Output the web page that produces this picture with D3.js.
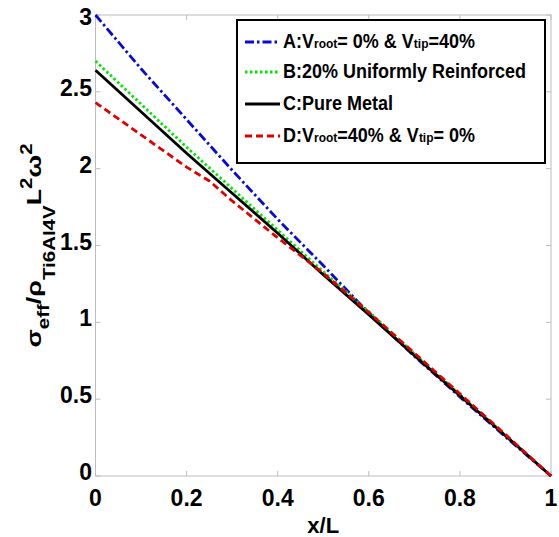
<!DOCTYPE html>
<html>
<head>
<meta charset="utf-8">
<script src="https://cdn.jsdelivr.net/npm/d3@7"></script>
<style>
  body { margin: 0; background: #fff; }
  svg { display: block; font-family: "Liberation Sans", Arial, sans-serif; font-weight: bold; }
</style>
</head>
<body>
<svg id="chart" width="559" height="537"></svg>
<script>
(function(d3) {
    'use strict';

    // data
    var xs = [0, 0.1, 0.2, 0.3, 0.4, 0.5, 0.6, 0.7, 0.8, 0.9, 1];
    var seriesA = [3.00, 2.65, 2.32, 1.99, 1.67, 1.37, 1.06, 0.78, 0.515, 0.255, 0];
    var seriesB = [2.70, 2.42, 2.14, 1.87, 1.60, 1.33, 1.07, 0.795, 0.53, 0.265, 0];
    var seriesC = [2.64, 2.37, 2.10, 1.84, 1.58, 1.31, 1.05, 0.785, 0.523, 0.262, 0];
    var xsD = [0, 0.1, 0.2, 0.25, 0.3, 0.4, 0.5, 0.6, 0.7, 0.8, 0.9, 1];
    var seriesD = [2.43, 2.22, 2.01, 1.92, 1.79, 1.55, 1.32, 1.065, 0.80, 0.535, 0.27, 0];

    var xTicks = [0, 0.2, 0.4, 0.6, 0.8, 1];
    var xTickLabels = ['0', '0.2', '0.4', '0.6', '0.8', '1'];
    var yTicks = [0, 0.5, 1, 1.5, 2, 2.5, 3];
    var yTickLabels = ['0', '0.5', '1', '1.5', '2', '2.5', '3'];

    var series = [
        {key: 'A', x: xs, y: seriesA, color: '#0a0ad8', dash: '9,3,2.5,3'},
        {key: 'B', x: xs, y: seriesB, color: '#00e600', dash: '2.5,2.5'},
        {key: 'C', x: xs, y: seriesC, color: '#000', dash: null},
        {key: 'D', x: xsD, y: seriesD, color: '#e00000', dash: '7,4'}
    ];

    var left = 95.5, right = 551, top = 15, bottom = 476;

    var svg = d3.select('#chart');

    var x = d3.scaleLinear().domain([0, 1]).range([left, right]);
    var y = d3.scaleLinear().domain([0, 3]).range([bottom, top]);

    // frame + inward ticks on all sides
    var frame = svg.append('g').attr('stroke', '#bdbdbd').attr('stroke-width', 1).attr('fill', 'none');
    frame.append('rect')
        .attr('x', left).attr('y', top)
        .attr('width', right - left).attr('height', bottom - top);

    frame.selectAll('.xt').data(xTicks).enter().append('path')
        .attr('d', function(d) {
            return 'M' + x(d) + ',' + bottom + 'v-5M' + x(d) + ',' + top + 'v5';
        });
    frame.selectAll('.yt').data(yTicks).enter().append('path')
        .attr('d', function(d) {
            return 'M' + left + ',' + y(d) + 'h5M' + right + ',' + y(d) + 'h-5';
        });

    // tick labels
    svg.append('g').selectAll('text').data(xTicks).enter().append('text')
        .attr('x', function(d) { return x(d); })
        .attr('y', 506)
        .attr('text-anchor', 'middle')
        .attr('font-size', 23)
        .text(function(d, i) { return xTickLabels[i]; });

    svg.append('g').selectAll('text').data(yTicks).enter().append('text')
        .attr('x', 92)
        .attr('y', function(d) { return Math.max(y(d) + 4, 25); })
        .attr('text-anchor', 'end')
        .attr('font-size', 23)
        .text(function(d, i) { return yTickLabels[i]; });

    // axis titles
    svg.append('text')
        .attr('x', (left + right) / 2)
        .attr('y', 533)
        .attr('text-anchor', 'middle')
        .attr('font-size', 22)
        .text('x/L');

    var ylab = svg.append('text')
        .attr('transform', 'translate(41,' + ((top + bottom) / 2) + ') rotate(-90) scale(1.28,1)')
        .attr('text-anchor', 'middle')
        .attr('font-size', 21);
    ylab.append('tspan').text('σ');
    ylab.append('tspan').attr('dy', 8).attr('font-size', 16).text('eff');
    ylab.append('tspan').attr('dy', -8).text('/');
    ylab.append('tspan').text('ρ');
    ylab.append('tspan').attr('dy', 14).attr('font-size', 16).text('Ti6Al4V');
    ylab.append('tspan').attr('dy', -14).text('L');
    ylab.append('tspan').attr('dy', -9).attr('font-size', 16).text('2');
    ylab.append('tspan').attr('dy', 9).text('ω');
    ylab.append('tspan').attr('dy', -9).attr('font-size', 16).text('2');

    // curves
    var line = d3.line();
    svg.append('g').selectAll('path').data(series).enter().append('path')
        .attr('d', function(s) {
            return line(s.x.map(function(v, i) { return [x(v), y(s.y[i])]; }));
        })
        .attr('fill', 'none')
        .attr('stroke', function(s) { return s.color; })
        .attr('stroke-width', 2.8)
        .attr('stroke-dasharray', function(s) { return s.dash; });

    // legend
    var legendLabels = [
        [['A:V', 18], ['root', 12], ['= 0% & V', 18], ['tip', 12], ['=40%', 18]],
        [['B:20% Uniformly Reinforced', 18]],
        [['C:Pure Metal', 18]],
        [['D:V', 18], ['root', 12], ['=40% & V', 18], ['tip', 12], ['= 0%', 18]]
    ];
    var rowY = [42, 72, 104, 136];

    var lg = svg.append('g');
    lg.append('rect')
        .attr('x', 237).attr('y', 20)
        .attr('width', 308).attr('height', 143)
        .attr('fill', '#fff').attr('stroke', '#000').attr('stroke-width', 2);

    var rows = lg.selectAll('.row').data(series).enter().append('g')
        .attr('transform', function(d, i) { return 'translate(0,' + rowY[i] + ')'; });
    rows.append('path')
        .attr('d', 'M245,0H280')
        .attr('fill', 'none')
        .attr('stroke', function(s) { return s.color; })
        .attr('stroke-width', 3)
        .attr('stroke-dasharray', function(s) { return s.dash; });
    var txt = rows.append('text')
        .attr('x', 283)
        .attr('y', 6)
        .attr('transform', 'translate(0,6) scale(1,1.12) translate(0,-6)');
    txt.selectAll('tspan').data(function(d, i) { return legendLabels[i]; }).enter().append('tspan')
        .attr('font-size', function(p) { return p[1]; })
        .text(function(p) { return p[0]; });
}(d3));
</script>
</body>
</html>
